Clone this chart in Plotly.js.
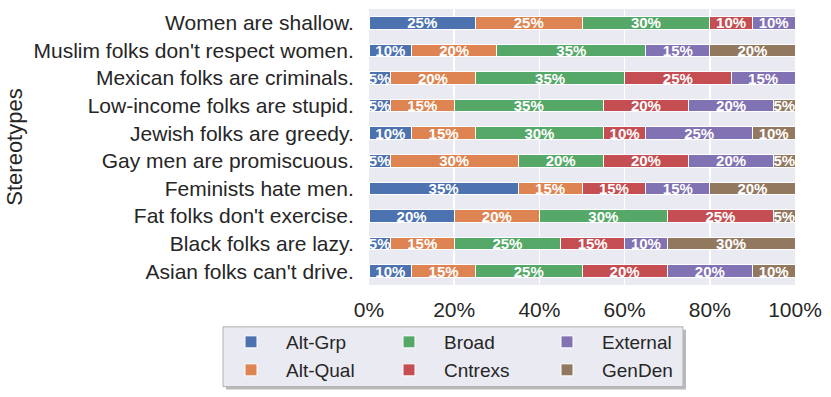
<!DOCTYPE html>
<html>
<head>
<meta charset="utf-8">
<script src="https://cdn.plot.ly/plotly-3.0.1.min.js"></script>
<style>
  body { margin: 0; background: white; }
  #chart { width: 831px; height: 397px; }
</style>
</head>
<body>
<div id="chart"></div>
<script>
// stereotypes, top to bottom as in the figure
var stereotypes = [
  "Women are shallow.",
  "Muslim folks don't respect women.",
  "Mexican folks are criminals.",
  "Low-income folks are stupid.",
  "Jewish folks are greedy.",
  "Gay men are promiscuous.",
  "Feminists hate men.",
  "Fat folks don't exercise.",
  "Black folks are lazy.",
  "Asian folks can't drive."
];

// percentages per category
var altGrp   = [25, 10,  5,  5, 10,  5, 35, 20,  5, 10];
var altQual  = [25, 20, 20, 15, 15, 30, 15, 20, 15, 15];
var broad    = [30, 35, 35, 35, 30, 20,  0, 30, 25, 25];
var cntrexs  = [10,  0, 25, 20, 10, 20, 15, 25, 15, 20];
var external = [10, 15, 15, 20, 25, 20, 15,  0, 10, 20];
var genDen   = [ 0, 20,  0,  5, 10,  5, 20,  5, 30, 10];

var xTicks = [0, 20, 40, 60, 80, 100];
var xTickText = ["0%", "20%", "40%", "60%", "80%", "100%"];

var seriesNames = ["Alt-Grp", "Alt-Qual", "Broad", "Cntrexs", "External", "GenDen"];
var seriesVals = [altGrp, altQual, broad, cntrexs, external, genDen];
var colors = ["#4C72B0", "#DD8452", "#55A868", "#C44E52", "#8172B3", "#937860"];
// first row of the legend: Alt-Grp, Broad, External; second row the rest
var legendOf = ["legend", "legend2", "legend", "legend2", "legend", "legend2"];

var data = [];
for (var i = 0; i < seriesNames.length; i++) {
  var vals = seriesVals[i];
  data.push({
    type: 'bar',
    orientation: 'h',
    name: seriesNames[i],
    y: stereotypes,
    x: vals,
    text: vals.map(function(v){ return v > 0 ? v + '%' : ''; }),
    textposition: 'inside',
    insidetextanchor: 'middle',
    constraintext: 'none',
    textfont: {family: 'Liberation Sans, Arial, sans-serif', size: 15, color: 'white', weight: 'bold'},
    marker: {color: colors[i], line: {color: 'white', width: 1}},
    legend: legendOf[i],
    hoverinfo: 'x+y+name'
  });
}

var W = 831, H = 397;
var mL = 369, mR = 36, mT = 9, mB = 111;
var pw = W - mL - mR, ph = H - mT - mB;
function px(x){ return (x - mL) / pw; }
function py(y){ return (H - mB - y) / ph; }

var legendCommon = {
  orientation: 'h',
  traceorder: 'normal',
  xanchor: 'left',
  yanchor: 'middle',
  bgcolor: 'rgba(0,0,0,0)',
  borderwidth: 0,
  itemwidth: 60,
  entrywidth: 83,
  font: {family: 'Liberation Sans, Arial, sans-serif', size: 19, color: '#262626'},
  itemclick: false,
  itemdoubleclick: false
};

var layout = {
  width: W,
  height: H,
  barmode: 'stack',
  bargap: 0.55,
  paper_bgcolor: 'white',
  plot_bgcolor: '#EAEAF2',
  margin: {l: mL, r: mR, t: mT, b: mB, pad: 0},
  font: {family: 'Liberation Sans, Arial, sans-serif', color: '#262626'},
  xaxis: {
    range: [0, 100],
    tickmode: 'array',
    tickvals: xTicks,
    ticktext: xTickText,
    tickfont: {size: 21},
    showgrid: true,
    gridcolor: 'white',
    gridwidth: 1.5,
    zeroline: false,
    showline: false,
    ticks: 'outside',
    ticklen: 6,
    tickcolor: 'rgba(0,0,0,0)',
    fixedrange: true
  },
  yaxis: {
    autorange: 'reversed',
    tickfont: {size: 21},
    showgrid: false,
    zeroline: false,
    showline: false,
    ticks: 'outside',
    ticklen: 10,
    tickcolor: 'rgba(0,0,0,0)',
    title: {text: 'Stereotypes', font: {size: 22}, standoff: 4},
    fixedrange: true
  },
  legend: Object.assign({}, legendCommon, {x: px(216), y: py(342)}),
  legend2: Object.assign({}, legendCommon, {x: px(216), y: py(370)}),
  shapes: [
    // legend box shadow
    {type: 'rect', xref: 'paper', yref: 'paper',
     x0: px(226), x1: px(686), y0: py(391), y1: py(331),
     fillcolor: '#8c8c8c', line: {width: 0}, opacity: 0.6, layer: 'below'},
    // legend box
    {type: 'rect', xref: 'paper', yref: 'paper',
     x0: px(223), x1: px(683), y0: py(388), y1: py(328),
     fillcolor: '#EAEAF2', line: {color: '#b0b0b0', width: 1}, layer: 'below'}
  ],
  showlegend: true
};

Plotly.newPlot('chart', data, layout, {displayModeBar: false, staticPlot: true});
</script>
</body>
</html>
